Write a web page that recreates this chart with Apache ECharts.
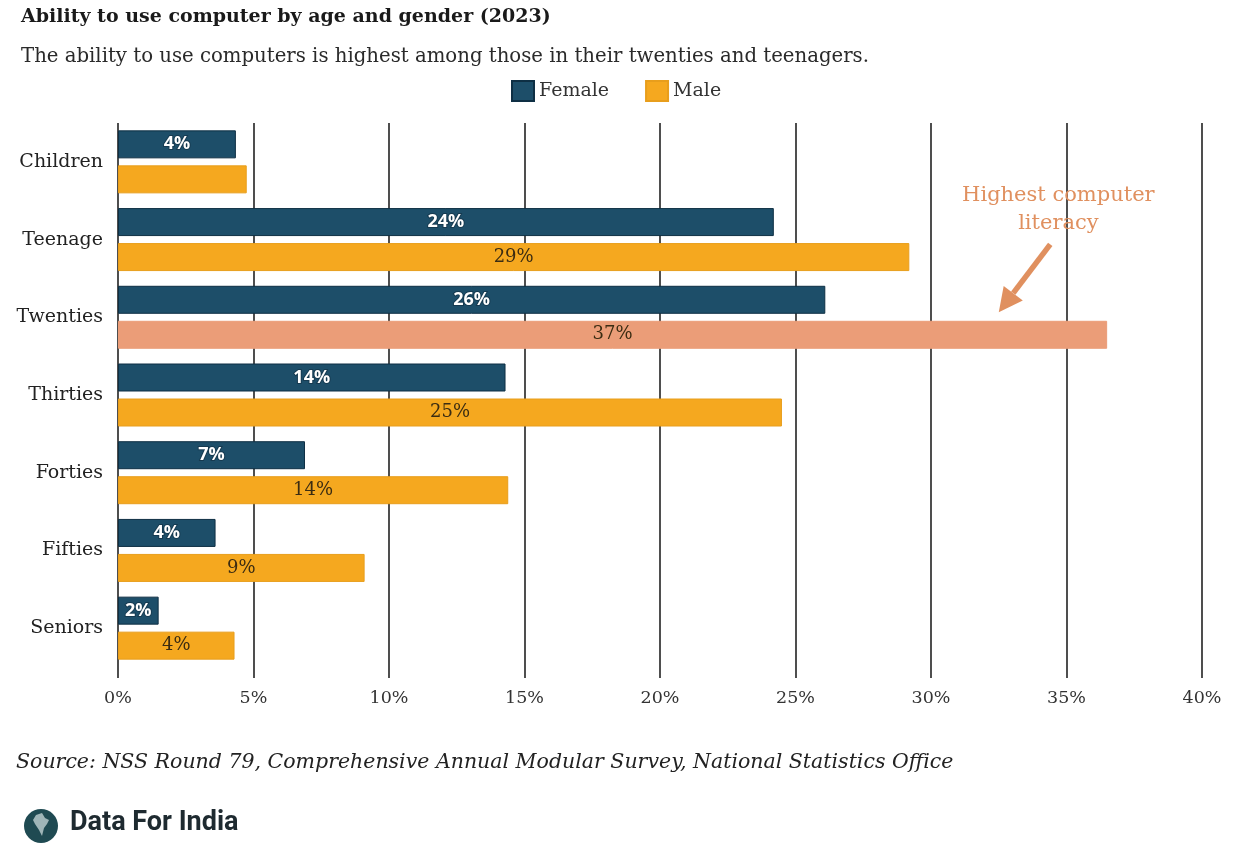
<!DOCTYPE html>
<html>
<head>
<meta charset="utf-8">
<script src="https://cdn.jsdelivr.net/npm/echarts@6/dist/echarts.min.js"></script>
<style>html,body{margin:0;padding:0;background:#fff;}#c{width:1235px;height:864px;}</style>
</head>
<body>
<div id="c"></div>
<script>
const categories = ['Children', 'Teenage', 'Twenties', 'Thirties', 'Forties', 'Fifties', 'Seniors'];
const femaleValues = [4.35, 24.2, 26.1, 14.3, 6.9, 3.6, 1.5];
const maleValues = [4.75, 29.2, 36.5, 24.5, 14.4, 9.1, 4.3];
const femaleLabels = ['4%', '24%', '26%', '14%', '7%', '4%', '2%'];
const maleLabels = ['', '29%', '37%', '25%', '14%', '9%', '4%'];
const highlightCategory = 'Twenties';
const xTicks = [0, 5, 10, 15, 20, 25, 30, 35, 40];

const SERIF = '"DejaVu Serif", "Liberation Serif", serif';
const C_F = '#1d4e69', C_M = '#f5a81f', C_HI = '#eb9d78', C_NOTE = '#e0905f';

const chart = echarts.init(document.getElementById('c'));
const option = {
  backgroundColor: '#fff',
  animation: false,
  title: [
    { text: 'Ability to use computer by age and gender (2023)', left: 16, top: 3,
      textStyle: { fontFamily: SERIF, fontSize: 19, fontWeight: 'bold', color: '#1a1a1a' } },
    { text: 'The ability to use computers is highest among those in their twenties and teenagers.', left: 16, top: 42,
      textStyle: { fontFamily: SERIF, fontSize: 19.7, fontWeight: 'normal', color: '#2a2a2a' } }
  ],
  legend: {
    left: 506, top: 75, itemWidth: 22, itemHeight: 20, itemGap: 36, icon: 'rect',
    textStyle: { fontFamily: SERIF, fontSize: 19, color: '#333' },
    data: ['Female', 'Male']
  },
  grid: { left: 118, right: 33, top: 123, bottom: 197, containLabel: false },
  xAxis: {
    type: 'value', min: 0, max: 40, interval: 5,
    axisLine: { show: false },
    axisTick: { show: true, length: 11, lineStyle: { color: '#222', width: 1.6 } },
    splitLine: { show: true, lineStyle: { color: '#222', width: 1.6 } },
    axisLabel: { margin: 22, fontFamily: SERIF, fontSize: 17.5, color: '#333',
      formatter: v => xTicks.indexOf(v) >= 0 ? v + '%' : '' }
  },
  yAxis: {
    type: 'category', data: categories, inverse: true,
    axisLine: { show: false }, axisTick: { show: false },
    axisLabel: { margin: 15, fontFamily: SERIF, fontSize: 19, color: '#222', padding: [7, 0, 0, 0] }
  },
  series: [
    { name: 'Female', type: 'bar', barWidth: 28, barGap: '25%',
      itemStyle: { color: C_F, borderColor: '#0e2f44', borderWidth: 1 },
      label: { show: true, position: 'inside', fontFamily: '"Open Sans", sans-serif', fontWeight: 'bold',
        fontSize: 18, color: '#fff', textBorderColor: '#163a50', textBorderWidth: 2,
        formatter: p => femaleLabels[p.dataIndex] },
      data: femaleValues },
    { name: 'Male', type: 'bar', barWidth: 28, barGap: '25%',
      itemStyle: { color: C_M, borderColor: '#e89e1c', borderWidth: 1 },
      label: { show: true, position: 'inside', fontFamily: SERIF, fontSize: 18, color: '#3b2c12',
        formatter: p => maleLabels[p.dataIndex] },
      data: maleValues.map((v, i) => categories[i] === highlightCategory
        ? { value: v, itemStyle: { color: C_HI, borderColor: C_HI } } : v) }
  ]
};
chart.setOption(option);

// Annotation and footer
const hiIdx = categories.indexOf(highlightCategory);
const tip = chart.convertToPixel({ gridIndex: 0 }, [32.5, hiIdx]);
const tail = chart.convertToPixel({ gridIndex: 0 }, [34.4, hiIdx]);
const tipY = tip[1] - 5, tailY = tail[1] - 73;
const ang = Math.atan2(tipY - tailY, tip[0] - tail[0]);
const hl = 24, hw = 12;
const bx = tip[0] - hl * Math.cos(ang), by = tipY - hl * Math.sin(ang);
const px = -Math.sin(ang) * hw, py = Math.cos(ang) * hw;
const noteX = chart.convertToPixel({ gridIndex: 0 }, [34.7, hiIdx])[0];

chart.setOption({
  graphic: [
    { type: 'text', x: noteX, y: 182, style: {
      text: 'Highest computer\nliteracy', fill: C_NOTE, font: '21px ' + SERIF, align: 'center', lineHeight: 28 } },
    { type: 'line', shape: { x1: tail[0], y1: tailY, x2: bx, y2: by }, style: { stroke: C_NOTE, lineWidth: 5.5 } },
    { type: 'polygon', shape: { points: [[tip[0], tipY], [bx + px, by + py], [bx - px, by - py]] }, style: { fill: C_NOTE } },
    { type: 'text', left: 16, top: 753, style: {
      text: 'Source: NSS Round 79, Comprehensive Annual Modular Survey, National Statistics Office',
      fill: '#222', font: 'italic 20.5px ' + SERIF } },
    { type: 'circle', shape: { cx: 41, cy: 826, r: 17 }, style: { fill: '#1f4a52' } },
    { type: 'polygon', shape: { points: [[36,815],[42,813],[45,818],[49,820],[47,824],[44,828],[42,836],[39,830],[35,824],[33,820]] }, style: { fill: '#9fb5b8' } },
    { type: 'text', left: 70, top: 810, style: { text: 'Data For India', fill: '#1e2a30',
      font: 'bold 27px Roboto, "Noto Sans", sans-serif' } }
  ]
});
</script>
</body>
</html>
